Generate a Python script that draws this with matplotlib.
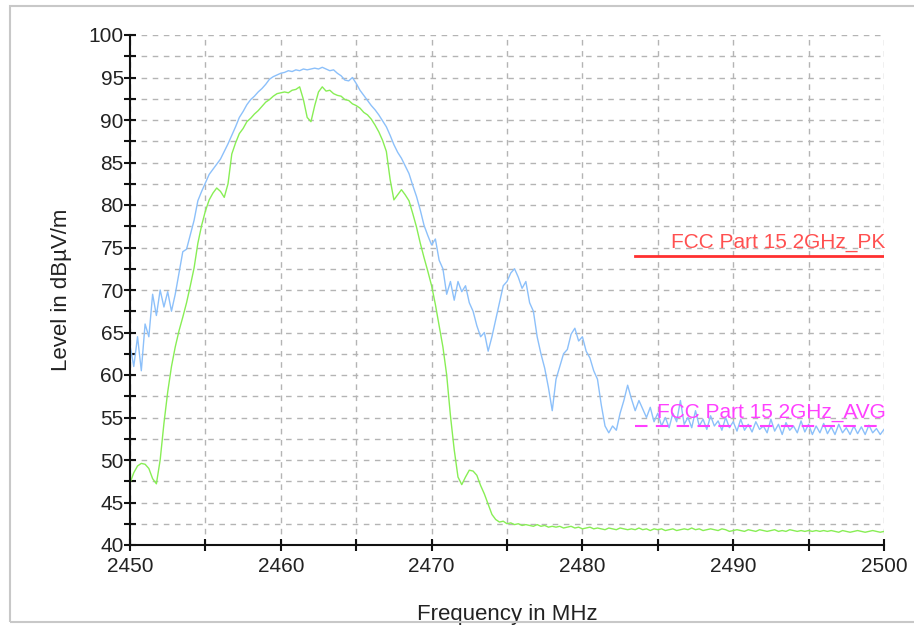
import numpy as np
import matplotlib
matplotlib.use("Agg")
import matplotlib.pyplot as plt
from matplotlib.patches import Rectangle
from matplotlib.ticker import MultipleLocator

# sweep 2450..2500 MHz, 0.25 MHz step
freq_start = 2450.0
freq_stop = 2500.0

peak_level = [
    63.5, 61.0, 64.5, 60.5, 66.0, 64.5, 69.5, 67.0, 70.0, 68.0,
    69.8, 67.5, 69.5, 72.0, 74.5, 74.8, 76.5, 78.2, 80.5, 81.6,
    82.6, 83.6, 84.2, 84.8, 85.4, 86.3, 87.2, 88.2, 89.2, 90.3,
    91.0, 91.8, 92.4, 92.8, 93.3, 93.7, 94.2, 94.8, 95.1, 95.3,
    95.5, 95.6, 95.8, 95.7, 95.9, 95.8, 96.0, 95.9, 96.0, 96.1,
    96.0, 96.2, 96.0, 95.8, 95.9, 95.5, 95.2, 94.7, 94.6, 95.0,
    94.3, 93.5, 92.9, 92.3, 91.7, 91.2, 90.6, 89.9, 89.2, 88.2,
    87.1, 86.2, 85.5, 84.6, 83.7, 82.3, 81.0, 79.4, 77.6, 76.4,
    75.3, 76.0, 73.5, 72.5, 69.5, 71.0, 68.8, 71.0, 69.8, 70.5,
    68.5, 67.5, 65.8, 64.5, 65.0, 62.8, 64.5, 66.5, 68.5, 70.5,
    71.0, 72.0, 72.5, 71.5, 70.2, 71.0, 68.5, 67.5, 64.5, 62.5,
    60.8, 58.5, 55.8, 59.5, 61.0, 62.5, 63.0, 64.8, 65.5, 64.0,
    64.5, 62.8, 62.0, 60.5, 59.5, 56.5, 54.0, 53.2, 54.0, 53.5,
    55.5, 57.0, 58.8, 57.2, 55.8, 57.0, 56.0, 55.0, 56.2, 54.5,
    55.5, 54.0, 55.0, 53.8, 55.5, 54.5, 57.0, 54.2, 55.0, 53.8,
    55.8, 54.0, 54.8, 53.6, 55.2, 54.0, 54.6, 53.5, 55.0, 53.8,
    54.5, 53.4, 54.8, 53.5, 54.2, 53.3, 54.5, 53.6, 54.0, 53.2,
    54.8, 53.4, 54.2, 53.0, 54.4, 53.5, 54.0, 53.2, 54.6, 53.3,
    54.2, 53.0, 54.0, 53.2, 54.3, 53.1, 53.9, 53.0, 54.2, 53.2,
    53.8, 53.0, 54.0, 53.1, 53.9, 53.0, 54.1, 53.2, 53.7, 53.0,
    53.6,
]

avg_level = [
    47.3, 48.5, 49.3, 49.6, 49.5, 49.0, 47.8, 47.2, 50.0, 54.3,
    58.0, 61.0, 63.3, 65.2, 66.8, 68.5, 70.5, 72.6, 75.5, 77.6,
    79.3, 80.6, 81.4, 82.0, 81.6, 80.9, 82.5, 86.0, 87.3, 88.4,
    89.0, 89.8, 90.2, 90.7, 91.1, 91.6, 92.1, 92.4, 92.8, 93.1,
    93.2, 93.3, 93.2, 93.5, 93.6, 93.9, 92.4, 90.3, 89.8, 91.7,
    93.3, 93.9, 93.4, 93.5, 93.1, 92.9, 92.8, 92.4, 92.3, 91.9,
    91.7, 91.4, 90.9, 90.6, 90.1, 89.4, 88.6, 87.6, 86.3, 83.0,
    80.6, 81.2, 81.8, 81.2, 80.5, 79.0, 77.4, 75.5, 73.8, 72.2,
    70.5, 68.3, 65.8, 63.3, 60.0, 55.2, 51.2, 48.0, 47.1, 48.0,
    48.8, 48.7, 48.2, 47.0, 46.0, 44.8, 43.6, 43.0, 42.7, 42.8,
    42.5, 42.6, 42.4, 42.5, 42.3, 42.4, 42.3, 42.2, 42.4, 42.2,
    42.3, 42.1, 42.2, 42.1, 42.2, 42.0, 42.1, 42.2, 42.0, 42.1,
    41.9, 42.0, 42.1, 41.9, 42.0, 41.9, 41.8, 42.0, 41.9, 41.8,
    42.0, 41.9, 41.8, 41.9, 41.8, 42.0, 41.8, 41.9, 41.7, 41.9,
    41.8, 41.9, 41.7, 41.8, 41.9, 41.7, 41.8, 41.9, 41.8, 42.0,
    41.8, 41.9, 41.7, 41.8, 41.9, 41.8, 41.7, 41.9, 41.8, 41.6,
    41.7, 41.8, 41.7, 41.6, 41.8, 41.7, 41.6, 41.8, 41.7, 41.6,
    41.7, 41.8, 41.6, 41.7, 41.6, 41.8, 41.7, 41.6, 41.7, 41.6,
    41.7, 41.6, 41.7, 41.6, 41.7, 41.6, 41.7, 41.6, 41.5, 41.7,
    41.6, 41.5, 41.6, 41.7, 41.6, 41.5, 41.6, 41.7, 41.6, 41.5,
    41.6,
]

# limit lines
limit_freq = [2483.5, 2500.0]
pk_limit = [74.0, 74.0]
avg_limit = [54.0, 54.0]
pk_label = "FCC Part 15 2GHz_PK"
avg_label = "FCC Part 15 2GHz_AVG"

freq = np.linspace(freq_start, freq_stop, len(peak_level))

plt.rcParams['font.family'] = ['Liberation Sans', 'DejaVu Sans']

fig = plt.figure(figsize=(9.14, 6.25), dpi=100)
# grey frame of the report window (right edge runs off the picture)
fig.patches.append(Rectangle((10 / 914, 3 / 625), 1.05, 0.985, transform=fig.transFigure,
                             fill=False, edgecolor='#c8c8c8', linewidth=1.5))
ax = fig.add_axes([130 / 914, 1 - 545 / 625, 754 / 914, 510 / 625])

ax.plot(freq, peak_level, color='#8cc0fa', linewidth=1.0)
ax.plot(freq, avg_level, color='#88ee55', linewidth=1.0)

ax.plot(limit_freq, pk_limit, color='#ff3030', linewidth=2.0)
ax.plot(limit_freq, avg_limit, color='#ff40ff', linewidth=1.5, linestyle=(0, (6, 4)))
ax.text(2500.1, 74.5, pk_label, color='#ff5050', fontsize=15, ha='right', va='bottom')
ax.text(2500.1, 54.5, avg_label, color='#ff40ff', fontsize=15, ha='right', va='bottom')

ax.set_xlim(2450, 2500)
ax.set_ylim(40, 100)
ax.xaxis.set_major_locator(MultipleLocator(10))
ax.xaxis.set_minor_locator(MultipleLocator(5))
ax.yaxis.set_major_locator(MultipleLocator(5))
ax.yaxis.set_minor_locator(MultipleLocator(2.5))

ax.grid(which='both', color='#b4b4b4', linestyle=(0, (4, 4)), linewidth=1.0)
ax.set_axisbelow(True)

for s in ['top', 'right']:
    ax.spines[s].set_visible(False)
for s in ['left', 'bottom']:
    ax.spines[s].set_linewidth(1.5)
    ax.spines[s].set_color('#111111')

ax.tick_params(which='both', direction='inout', length=9, width=1.5, color='#111111',
               labelsize=15, labelcolor='#222222')
ax.tick_params(axis='y', pad=0)
ax.tick_params(axis='x', pad=4)

ax.set_xlabel("Frequency in MHz", fontsize=16, labelpad=20, color='#222222')
ax.set_ylabel("Level in dBµV/m", fontsize=16, labelpad=12, color='#222222')

fig.savefig("out.png", dpi=100)
